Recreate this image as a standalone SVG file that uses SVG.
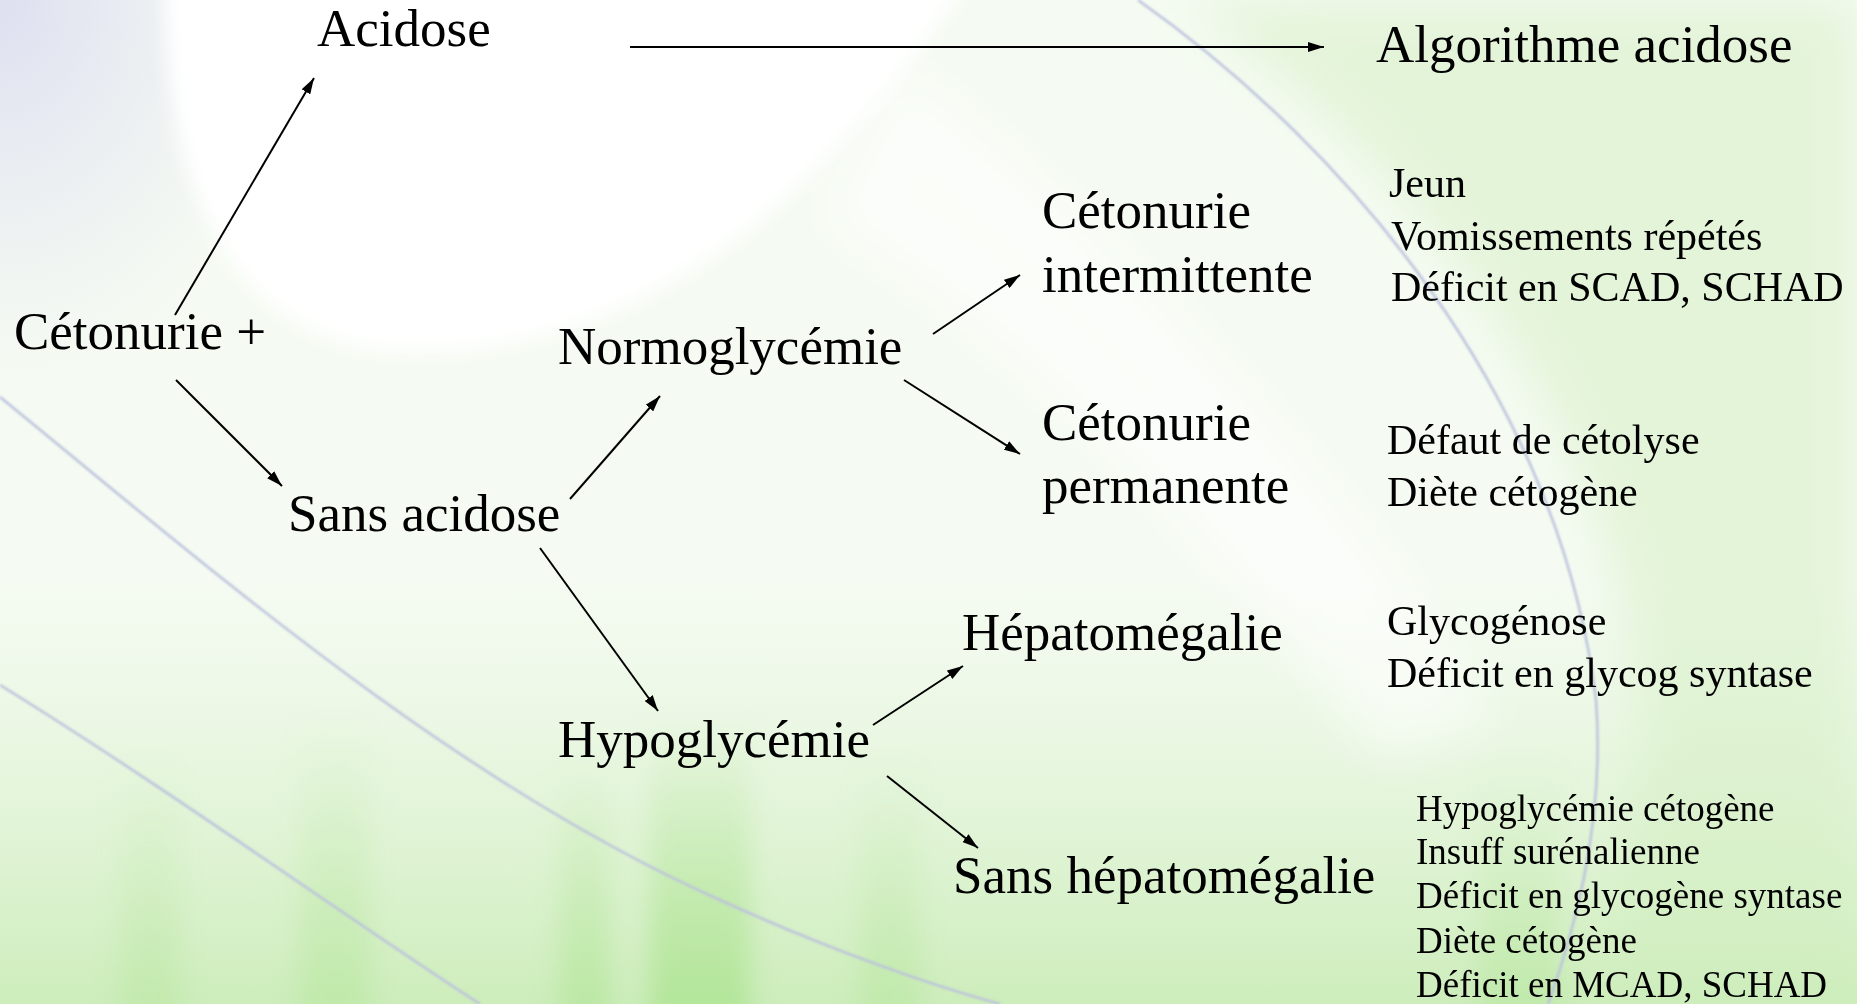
<svg xmlns="http://www.w3.org/2000/svg" width="1857" height="1004" viewBox="0 0 1857 1004">
<defs>
<style>
.lbl{font-family:"Liberation Serif","Times New Roman",serif;font-size:53px;fill:#000}
.mid{font-family:"Liberation Serif","Times New Roman",serif;font-size:42px;fill:#000}
.sml{font-family:"Liberation Serif","Times New Roman",serif;font-size:37px;fill:#000}
.con{stroke:#000;stroke-width:2;fill:none;marker-end:url(#ah)}
.arc{fill:none;stroke:#bcc2dc;stroke-width:2.5}
</style>
<marker id="ah" viewBox="0 0 16 10" refX="16" refY="5" markerWidth="16" markerHeight="10" markerUnits="userSpaceOnUse" orient="auto">
<path d="M0,0 L16,5 L0,10 Z" fill="#000"/>
</marker>
<filter id="soft" x="-20%" y="-20%" width="140%" height="140%"><feGaussianBlur stdDeviation="25"/></filter>
<filter id="lens" x="-20%" y="-20%" width="140%" height="140%"><feGaussianBlur stdDeviation="10"/></filter>
<filter id="soft2" x="-50%" y="-10%" width="200%" height="120%"><feGaussianBlur stdDeviation="12"/></filter>
<filter id="thin"><feGaussianBlur stdDeviation="0.8"/></filter>
<radialGradient id="tl" cx="0" cy="0" r="1" gradientUnits="objectBoundingBox">
<stop offset="0" stop-color="#d8d8f0" stop-opacity="0.8"/>
<stop offset="1" stop-color="#e0e0f2" stop-opacity="0"/>
</radialGradient>
<linearGradient id="bot" x1="0" y1="0" x2="0" y2="1">
<stop offset="0" stop-color="#dcf2cf" stop-opacity="0"/>
<stop offset="1" stop-color="#cdedbb"/>
</linearGradient>
<linearGradient id="st" x1="0" y1="0" x2="0" y2="1">
<stop offset="0" stop-color="#aee493" stop-opacity="0"/>
<stop offset="1" stop-color="#aee493" stop-opacity="0.9"/>
</linearGradient>
</defs>
<g id="background">
<rect width="1857" height="1004" fill="#f5fbf2"/>
<path d="M1180,0 C1440,180 1620,450 1640,720 L1620,1004 L1857,1004 L1857,0 Z" fill="#e4f4d9" filter="url(#soft)"/>
<rect x="0" y="580" width="1857" height="424" fill="url(#bot)"/>
<g filter="url(#soft2)">
<rect x="650" y="720" width="100" height="310" fill="url(#st)"/>
<rect x="560" y="760" width="50" height="270" fill="url(#st)" opacity="0.7"/>
<rect x="300" y="720" width="70" height="300" fill="url(#st)" opacity="0.5"/>
<rect x="120" y="760" width="60" height="260" fill="url(#st)" opacity="0.4"/>
<rect x="860" y="760" width="60" height="260" fill="url(#st)" opacity="0.45"/>
<rect x="1480" y="760" width="80" height="260" fill="url(#st)" opacity="0.45"/>
</g>
<path d="M900,60 C1100,220 1300,420 1500,720 L1380,760 C1200,520 1000,330 820,220 Z" fill="#ffffff" opacity="0.55" filter="url(#soft)"/>
<rect x="0" y="0" width="300" height="380" fill="url(#tl)"/>
<path d="M165,-30 C160,200 240,345 400,352 C580,358 780,270 975,-30 Z" fill="#ffffff" filter="url(#lens)"/>
<g filter="url(#thin)">
<path class="arc" d="M1138,0 C1350,150 1560,400 1596,700 C1605,820 1575,930 1548,1004"/>
<path class="arc" d="M0,397 C200,560 450,780 720,900 C830,950 930,985 1000,1004" stroke="#c6cade"/>
<path class="arc" d="M0,685 C170,790 350,920 480,1004" stroke="#c9cde0"/>
</g>
</g>
<g id="connectors">
<line class="con" x1="175" y1="315" x2="314" y2="78"/>
<line class="con" x1="176" y1="380" x2="282" y2="486"/>
<line class="con" x1="630" y1="47" x2="1324" y2="47"/>
<line class="con" x1="570" y1="499" x2="660" y2="396"/>
<line class="con" x1="540" y1="548" x2="658" y2="711"/>
<line class="con" x1="933" y1="334" x2="1020" y2="275"/>
<line class="con" x1="904" y1="380" x2="1020" y2="454"/>
<line class="con" x1="873" y1="725" x2="963" y2="666"/>
<line class="con" x1="887" y1="776" x2="978" y2="848"/>
</g>
<g id="n-cetonurie"><text class="lbl" x="14" y="349">Cétonurie +</text></g>
<g id="n-acidose"><text class="lbl" x="317" y="46">Acidose</text></g>
<g id="n-algo"><text class="lbl" x="1376" y="62">Algorithme acidose</text></g>
<g id="n-sans-acidose"><text class="lbl" x="288" y="531">Sans acidose</text></g>
<g id="n-normo"><text class="lbl" x="558" y="364">Normoglycémie</text></g>
<g id="n-hypo"><text class="lbl" x="558" y="757">Hypoglycémie</text></g>
<g id="n-interm"><text class="lbl" x="1042" y="228">Cétonurie</text><text class="lbl" x="1042" y="292">intermittente</text></g>
<g id="n-perm"><text class="lbl" x="1042" y="440">Cétonurie</text><text class="lbl" x="1042" y="503">permanente</text></g>
<g id="n-hepato"><text class="lbl" x="962" y="650">Hépatomégalie</text></g>
<g id="n-sans-hepato"><text class="lbl" x="953" y="893">Sans hépatomégalie</text></g>
<g id="n-list1"><text class="mid" x="1389" y="197">Jeun</text><text class="mid" x="1391" y="250">Vomissements répétés</text><text class="mid" x="1391" y="301">Déficit en SCAD, SCHAD</text></g>
<g id="n-list2"><text class="mid" x="1387" y="454">Défaut de cétolyse</text><text class="mid" x="1387" y="506">Diète cétogène</text></g>
<g id="n-list3"><text class="mid" x="1387" y="635">Glycogénose</text><text class="mid" x="1387" y="687">Déficit en glycog syntase</text></g>
<g id="n-list4"><text class="sml" x="1416" y="821">Hypoglycémie cétogène</text><text class="sml" x="1416" y="864">Insuff surénalienne</text><text class="sml" x="1416" y="908">Déficit en glycogène syntase</text><text class="sml" x="1416" y="953">Diète cétogène</text><text class="sml" x="1416" y="997">Déficit en MCAD, SCHAD</text></g>
</svg>
